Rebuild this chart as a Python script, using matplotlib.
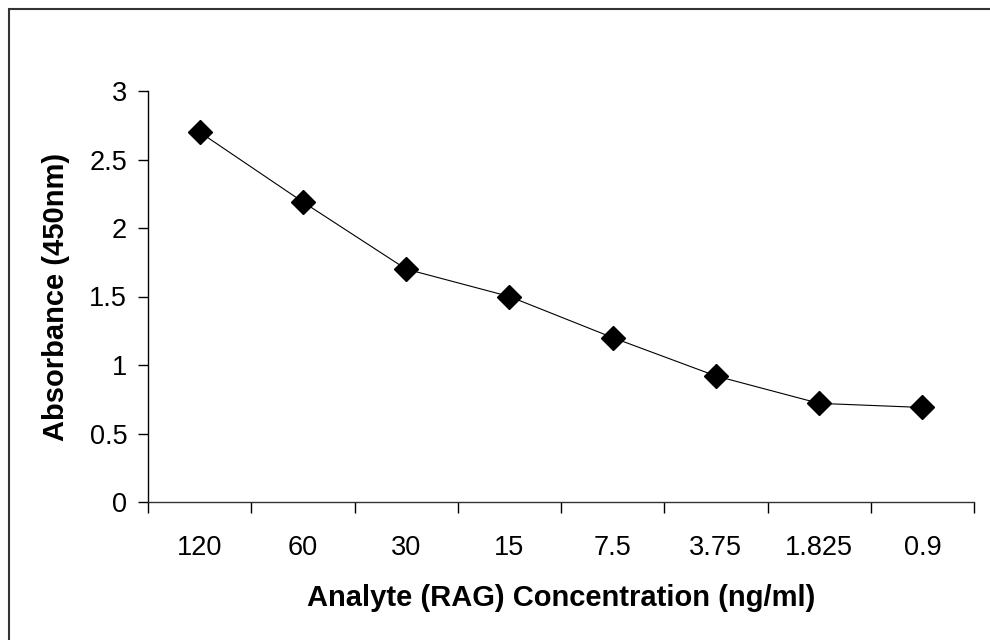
import matplotlib.pyplot as plt
from matplotlib.patches import Rectangle
import numpy as np

plt.rcParams['font.family'] = ['Liberation Sans', 'DejaVu Sans']

concentrations = ['120', '60', '30', '15', '7.5', '3.75', '1.825', '0.9']
absorbance = [2.70, 2.19, 1.70, 1.50, 1.20, 0.92, 0.72, 0.69]

fig = plt.figure(figsize=(9.9, 6.4), dpi=100)
ax = fig.add_axes([148/990, 138/640, (974-148)/990, (502-91)/640])

x = np.arange(len(concentrations))
ax.plot(x, absorbance, color='black', linewidth=0.8, marker='D',
        markersize=12, markerfacecolor='black', markeredgecolor='black')

ax.set_xlim(-0.5, len(concentrations) - 0.5)
ax.set_ylim(0, 3)
ax.set_yticks(np.arange(0, 3.01, 0.5))
ax.set_yticklabels(['0', '0.5', '1', '1.5', '2', '2.5', '3'])

# category boundaries get the tick marks, centres get the labels
ax.set_xticks(np.arange(-0.5, len(concentrations), 1.0))
ax.set_xticklabels([])
ax.set_xticks(x, minor=True)
ax.set_xticklabels(concentrations, minor=True)
ax.tick_params(axis='x', which='major', direction='out', length=8, width=1)
ax.tick_params(axis='x', which='minor', length=0, pad=24, labelsize=19.5)
ax.tick_params(axis='y', direction='out', length=7, width=1, labelsize=19.5, pad=8)

for side in ['top', 'right']:
    ax.spines[side].set_visible(False)
ax.spines['left'].set_linewidth(1)
ax.spines['bottom'].set_linewidth(1)
ax.spines['bottom'].set_color('#333333')

ax.set_xlabel('Analyte (RAG) Concentration (ng/ml)', fontsize=21,
              fontweight='bold', labelpad=16)
ax.set_ylabel('Absorbance (450nm)', fontsize=21, fontweight='bold', labelpad=14)

# chart area border (only top and left edges show in the image)
fig.patches.append(Rectangle((9/990, -0.1), 1.2, (631/640) + 0.1,
                             transform=fig.transFigure, fill=False,
                             edgecolor='#333333', linewidth=1.5, clip_on=False))

fig.savefig('out.png', dpi=100)
